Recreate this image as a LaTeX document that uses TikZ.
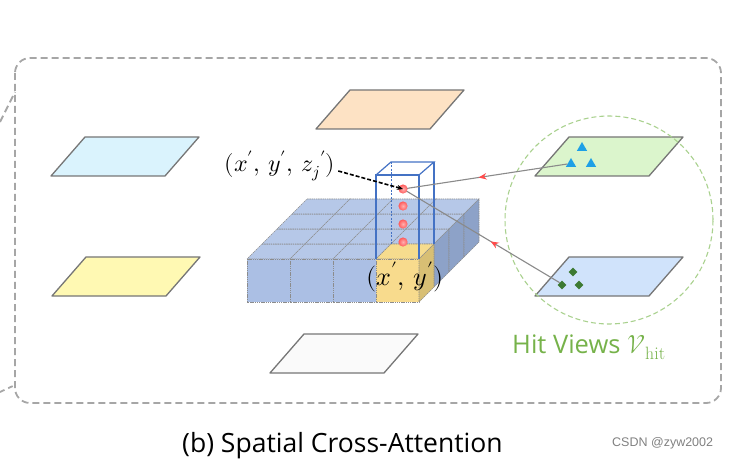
\documentclass[tikz,border=0pt]{standalone}
\usepackage{fontspec}
\usepackage{unicode-math}
\setmathfont{Latin Modern Math}
\setsansfont{Open Sans}
\newfontfamily\csdnfont{Liberation Sans}
\usetikzlibrary{decorations.markings,arrows.meta,shapes.geometric}
\definecolor{planegray}{HTML}{767676}
\definecolor{boxgray}{HTML}{A6A6A6}
\definecolor{gridgray}{HTML}{8C8C8C}
\definecolor{pillarblue}{HTML}{4472C4}
\definecolor{linegray}{HTML}{8A8A8A}
\definecolor{arrowred}{HTML}{FF4B4B}
\definecolor{pl1}{HTML}{DAF3FD}
\definecolor{pl2}{HTML}{FFF9B3}
\definecolor{pl3}{HTML}{FDE2C4}
\definecolor{pl4}{HTML}{FAFAFA}
\definecolor{pl5}{HTML}{DBF5CC}
\definecolor{pl6}{HTML}{D0E3FB}
\definecolor{cubetop}{HTML}{B6C8E8}
\definecolor{cubefront}{HTML}{ABBFE4}
\definecolor{cubeside}{HTML}{8DA2C8}
\definecolor{ytop}{HTML}{F6DC8E}
\definecolor{yfront}{HTML}{F8DB8D}
\definecolor{yside}{HTML}{D8BF74}
\definecolor{hitgreen}{HTML}{76B24A}
\definecolor{circgreen}{HTML}{A9D18E}
\definecolor{triblue}{HTML}{1EA0E6}
\definecolor{diagreen}{HTML}{3D7A32}
\definecolor{dotin}{HTML}{FFB0B0}
\definecolor{dotout}{HTML}{FF5A5A}
\begin{document}
\begin{tikzpicture}[x=1pt,y=-1pt,
  plane/.style={draw=planegray, line width=1.3pt, line join=round},
  pics/planeshape/.style={code={\path[plane,fill=#1] (0,0) -- (34,-39) -- (148,-39) -- (114,0) -- cycle;}},
  gridline/.style={draw=gridgray, line width=0.6pt, dash pattern=on 1.4pt off 0.8pt},
  pillar/.style={draw=pillarblue, line width=1.2pt},
  hitline/.style={draw=linegray, line width=1.1pt},
  redmid/.style={postaction={decorate}, decoration={markings, mark=at position #1 with {\arrow{Stealth[length=8pt,width=6.5pt,color=arrowred,fill=arrowred]}}}},
  tri/.style={regular polygon, regular polygon sides=3, fill=triblue, inner sep=0pt, minimum size=12pt},
  dia/.style={diamond, fill=diagreen, inner sep=0pt, minimum size=9pt},
  reddot/.style={inner color=dotin, outer color=dotout},
  outerbox/.style={draw=boxgray, line width=1.8pt, dash pattern=on 7pt off 4pt, rounded corners=15pt},
  capfont/.style={font=\sffamily\fontsize{26.5}{30}\selectfont},
]
\useasboundingbox (0,0) rectangle (756,468);

% outer dashed box and fragments of connectors
\draw[outerbox] (15,58) rectangle (721,403);
\coordinate (fragA1) at (0,122);
\coordinate (fragA2) at (15,92);
\coordinate (fragB1) at (0,392);
\coordinate (fragB2) at (15,385);
\draw[draw=boxgray, line width=1.8pt, dash pattern=on 7pt off 4pt] (fragA1) -- (fragA2);
\draw[draw=boxgray, line width=1.8pt, dash pattern=on 5pt off 4pt] (fragB1) -- (fragB2);

% camera view planes
\pic at (51,176) {planeshape=pl1};
\pic at (52,296) {planeshape=pl2};
\pic at (316,129) {planeshape=pl3};
\pic at (270,373) {planeshape=pl4};
\pic at (535,176) {planeshape=pl5};
\pic at (535,296) {planeshape=pl6};

% hit view circle
\node[draw=circgreen, line width=1.1pt, circle, minimum size=208pt, dash pattern=on 5pt off 3pt] (hitcircle) at (609,220) {};

% BEV grid : top faces
\foreach \i in {0,...,3}{
  \foreach \j in {0,...,3}{
    \path[fill=cubetop, gridline] ({247+43*\i+15*\j},{259-15*\j}) -- ++(43,0) -- ++(15,-15) -- ++(-43,0) -- cycle;
  }
}
\path[fill=ytop, gridline] (376,259) -- ++(43,0) -- ++(15,-15) -- ++(-43,0) -- cycle;
% front faces
\foreach \i in {0,1,2}{
  \path[fill=cubefront, gridline] ({247+43*\i},259) rectangle ++(43,43);
}
\path[fill=yfront, gridline] (376,259) rectangle ++(43,43);
% right faces
\foreach \j in {1,2,3}{
  \path[fill=cubeside, gridline] ({419+15*\j},{259-15*\j}) -- ++(15,-15) -- ++(0,43) -- ++(-15,15) -- cycle;
}
\path[fill=yside, gridline] (419,259) -- ++(15,-15) -- ++(0,43) -- ++(-15,15) -- cycle;

% pillar
\coordinate (pfl) at (376,175);
\coordinate (pfr) at (419,175);
\coordinate (pbl) at (391,162);
\coordinate (pbr) at (434,162);
\draw[pillar] (376,259) -- (pfl) -- (pfr) -- (419,259);
\draw[pillar] (pfl) -- (pbl) -- (pbr) -- (pfr);
\draw[pillar] (pbr) -- (434,244);
\draw[pillar, line width=1pt, dash pattern=on 2pt off 1.5pt] (pbl) -- (391,244);

% markers on hit views
\node[tri] (t1) at (582,148) {};
\node[tri] (t2) at (571,164) {};
\node[tri] (t3) at (591,164) {};
\node[dia] (m1) at (573,272) {};
\node[dia] (m2) at (562,285) {};
\node[dia] (m3) at (579,285) {};

% reference points
\coordinate (d1) at (403,189);
\coordinate (d2) at (403,206);
\coordinate (d3) at (403,224);
\coordinate (d4) at (403,242);

% projection lines
\draw[hitline, redmid=0.54] (t2.west) -- (d1);
\draw[hitline, redmid=0.44] (m2.north west) -- (d1);

\foreach \d in {d1,d2,d3,d4}{
  \shade[reddot] (\d) circle (4.6pt);
}

% labels
\node[font=\fontsize{24}{28}\selectfont, inner sep=1pt] (lab3d) at (280,166) {$(x',\,y',\,z_j{}')$};
\draw[black, line width=1.6pt, dash pattern=on 4pt off 2pt, -{Stealth[length=6pt,width=5pt]}] (lab3d.east) ++(2,5) coordinate (arrs) -- (d1);
\node[font=\fontsize{26}{30}\selectfont, inner sep=0pt] (lab2d) at (405,277) {$(x',\,y')$};

\node[font=\sffamily\fontsize{25.5}{30}\selectfont, text=hitgreen, anchor=base west, inner sep=0pt] (hitlab) at (512,353) {Hit Views $\mathcal{V}_{\mathrm{hit}}$};
\node[capfont, anchor=base west, inner sep=0pt] (caption) at (182,452) {(b) Spatial Cross-Attention};
\node[font=\csdnfont\fontsize{12.5}{14}\selectfont, text=gray, anchor=base west, inner sep=0pt] (csdn) at (612,446) {CSDN @zyw2002};
\end{tikzpicture}
\end{document}
